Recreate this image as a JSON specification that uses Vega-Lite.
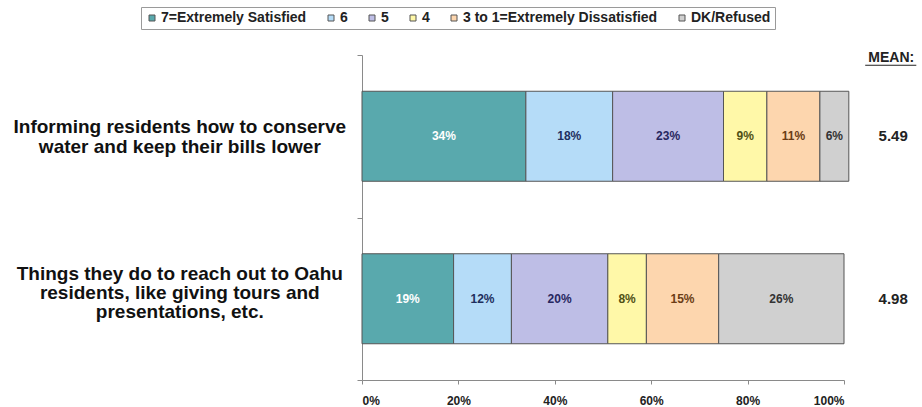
{
  "$schema": "https://vega.github.io/schema/vega-lite/v6.json",
  "width": 482,
  "height": 325,
  "autosize": {"type": "none"},
  "padding": {"left": 362, "top": 55, "right": 78, "bottom": 27},
  "background": "white",
  "config": {
    "view": {"stroke": null},
    "font": "Liberation Sans",
    "axisX": {
      "title": null,
      "grid": false,
      "domainColor": "#8a8a8a",
      "tickColor": "#8a8a8a",
      "tickSize": 4,
      "labelPadding": 11,
      "labelFontSize": 12,
      "labelFontWeight": "bold",
      "labelColor": "#222222"
    }
  },
  "data": {
    "values": [
      {"item": "Informing residents how to conserve water and keep their bills lower", "rating": "7=Extremely Satisfied", "rank": 1, "pct": 34, "mean": "5.49"},
      {"item": "Informing residents how to conserve water and keep their bills lower", "rating": "6", "rank": 2, "pct": 18, "mean": "5.49"},
      {"item": "Informing residents how to conserve water and keep their bills lower", "rating": "5", "rank": 3, "pct": 23, "mean": "5.49"},
      {"item": "Informing residents how to conserve water and keep their bills lower", "rating": "4", "rank": 4, "pct": 9, "mean": "5.49"},
      {"item": "Informing residents how to conserve water and keep their bills lower", "rating": "3 to 1=Extremely Dissatisfied", "rank": 5, "pct": 11, "mean": "5.49"},
      {"item": "Informing residents how to conserve water and keep their bills lower", "rating": "DK/Refused", "rank": 6, "pct": 6, "mean": "5.49"},
      {"item": "Things they do to reach out to Oahu residents, like giving tours and presentations, etc.", "rating": "7=Extremely Satisfied", "rank": 1, "pct": 19, "mean": "4.98"},
      {"item": "Things they do to reach out to Oahu residents, like giving tours and presentations, etc.", "rating": "6", "rank": 2, "pct": 12, "mean": "4.98"},
      {"item": "Things they do to reach out to Oahu residents, like giving tours and presentations, etc.", "rating": "5", "rank": 3, "pct": 20, "mean": "4.98"},
      {"item": "Things they do to reach out to Oahu residents, like giving tours and presentations, etc.", "rating": "4", "rank": 4, "pct": 8, "mean": "4.98"},
      {"item": "Things they do to reach out to Oahu residents, like giving tours and presentations, etc.", "rating": "3 to 1=Extremely Dissatisfied", "rank": 5, "pct": 15, "mean": "4.98"},
      {"item": "Things they do to reach out to Oahu residents, like giving tours and presentations, etc.", "rating": "DK/Refused", "rank": 6, "pct": 26, "mean": "4.98"}
    ]
  },
  "transform": [
    {"stack": "pct", "groupby": ["item"], "sort": [{"field": "rank", "order": "ascending"}], "as": ["x0", "x1"]},
    {"calculate": "(datum.x0 + datum.x1) / 2", "as": "xmid"},
    {"calculate": "datum.pct + '%'", "as": "pctLabel"}
  ],
  "encoding": {
    "y": {
      "field": "item", "type": "nominal", "sort": null,
      "scale": {"paddingInner": 0, "paddingOuter": 0},
      "axis": {
        "title": null,
        "labels": false,
        "domainColor": "#8a8a8a",
        "tickColor": "#8a8a8a",
        "tickBand": "extent",
        "tickSize": 5
      }
    }
  },
  "layer": [
    {
      "mark": {"type": "bar", "size": 90, "stroke": "#555555", "strokeWidth": 1},
      "encoding": {
        "x": {
          "field": "x0", "type": "quantitative",
          "scale": {"domain": [0, 100], "nice": false},
          "axis": {"title": null, "values": [0, 20, 40, 60, 80, 100], "labelExpr": "datum.value + '%'"}
        },
        "x2": {"field": "x1"},
        "color": {
          "field": "rating", "type": "nominal",
          "scale": {
            "domain": ["7=Extremely Satisfied", "6", "5", "4", "3 to 1=Extremely Dissatisfied", "DK/Refused"],
            "range": ["#59a9ad", "#b5dcf8", "#bebee6", "#fff8a8", "#fdd6ae", "#d0d0d0"]
          },
          "legend": {
            "title": null,
            "orient": "none",
            "legendX": -221,
            "legendY": -48,
            "direction": "horizontal",
            "symbolType": "square",
            "symbolSize": 36,
            "symbolStrokeColor": "#555555",
            "symbolStrokeWidth": 1,
            "labelFontSize": 14,
            "labelFontWeight": "bold",
            "labelColor": "#222222",
            "labelOffset": 2,
            "labelLimit": 400,
            "columnPadding": 17,
            "padding": 4,
            "strokeColor": "#9a9a9a",
            "fillColor": "white"
          }
        }
      }
    },
    {
      "mark": {"type": "text", "fontSize": 12, "fontWeight": "bold", "align": "center", "baseline": "middle"},
      "encoding": {
        "x": {"field": "xmid", "type": "quantitative", "title": null},
        "text": {"field": "pctLabel"},
        "color": {
          "field": "rating", "type": "nominal",
          "scale": {
            "domain": ["7=Extremely Satisfied", "6", "5", "4", "3 to 1=Extremely Dissatisfied", "DK/Refused"],
            "range": ["#ffffff", "#1e2f5e", "#272760", "#505015", "#6b3d15", "#333333"]
          },
          "legend": null
        }
      }
    },
    {
      "transform": [
        {"filter": "datum.rank == 1 && datum.pct == 34"},
        {"calculate": "'Informing residents how to conserve|water and keep their bills lower'", "as": "itemLines"}
      ],
      "mark": {"type": "text", "fontSize": 19, "fontWeight": "bold", "align": "center", "baseline": "middle", "color": "#111111", "lineBreak": "|", "lineHeight": 20, "dy": -9},
      "encoding": {
        "x": {"datum": -37.8, "title": null},
        "text": {"field": "itemLines"}
      }
    },
    {
      "transform": [
        {"filter": "datum.rank == 1 && datum.pct == 19"},
        {"calculate": "'Things they do to reach out to Oahu|residents, like giving tours and|presentations, etc.'", "as": "itemLines"}
      ],
      "mark": {"type": "text", "fontSize": 19, "fontWeight": "bold", "align": "center", "baseline": "middle", "color": "#111111", "lineBreak": "|", "lineHeight": 19, "dy": -25},
      "encoding": {
        "x": {"datum": -37.8, "title": null},
        "text": {"field": "itemLines"}
      }
    },
    {
      "transform": [{"filter": "datum.rank == 1"}],
      "mark": {"type": "text", "fontSize": 15, "fontWeight": "bold", "align": "center", "baseline": "middle", "color": "#222222"},
      "encoding": {
        "x": {"datum": 110.2, "title": null},
        "text": {"field": "mean"}
      }
    },
    {
      "transform": [{"filter": "datum.rank == 1 && datum.pct == 34"}],
      "mark": {"type": "text", "fontSize": 14, "fontWeight": "bold", "align": "center", "baseline": "middle", "color": "#222222", "dy": -78},
      "encoding": {
        "x": {"datum": 109.8, "title": null},
        "text": {"value": "MEAN:"}
      }
    },
    {
      "transform": [{"filter": "datum.rank == 1 && datum.pct == 34"}],
      "mark": {"type": "rule", "color": "#222222", "strokeWidth": 1, "yOffset": -71},
      "encoding": {
        "x": {"datum": 104.4, "title": null},
        "x2": {"datum": 115.0}
      }
    }
  ],
  "resolve": {"scale": {"color": "independent"}}
}
